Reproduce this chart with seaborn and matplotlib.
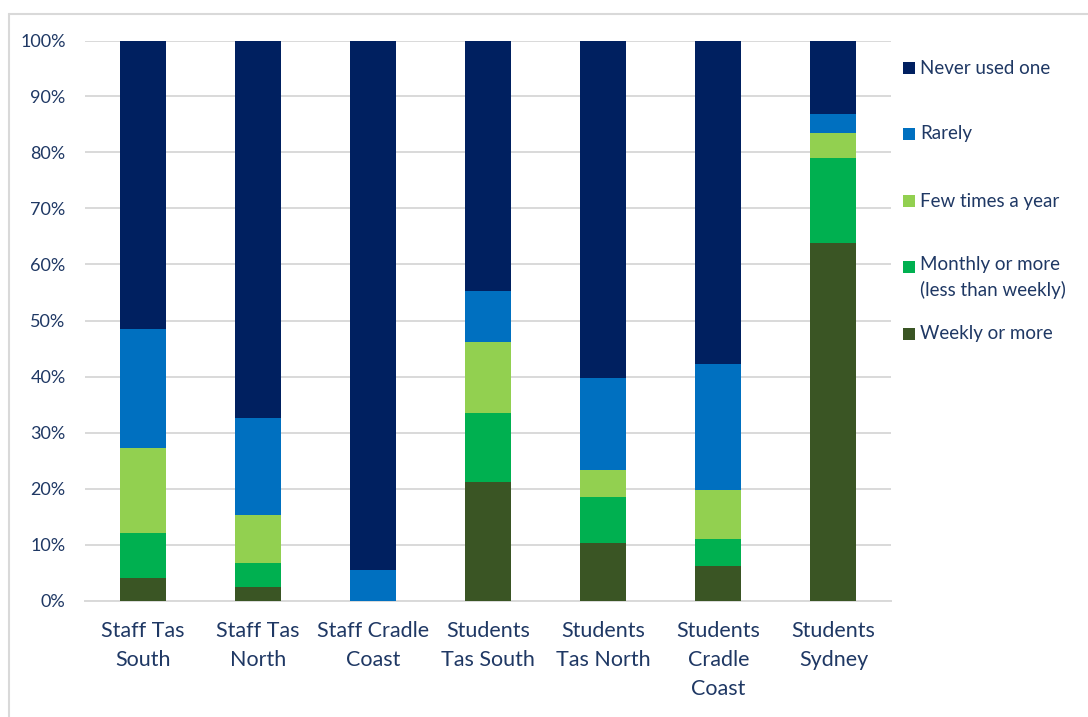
import numpy as np
import pandas as pd
import seaborn as sns
import matplotlib.pyplot as plt
from matplotlib.patches import Rectangle
from matplotlib.lines import Line2D
from matplotlib.ticker import PercentFormatter

sns.set_theme(style="white")
plt.rcParams["font.family"] = ["Lato", "DejaVu Sans"]

# Survey groups (x axis)
categories = [
    "Staff Tas\nSouth", "Staff Tas\nNorth", "Staff Cradle\nCoast",
    "Students\nTas South", "Students\nTas North", "Students\nCradle\nCoast",
    "Students\nSydney",
]

# Share of respondents (%) per frequency, bottom of the stack first
weekly = [4.1, 2.5, 0.0, 21.1, 10.2, 6.2, 63.8]
monthly = [7.9, 4.2, 0.0, 12.3, 8.2, 4.8, 15.2]
few_times = [15.2, 8.6, 0.0, 12.8, 4.9, 8.8, 4.5]
rarely = [21.2, 17.3, 5.4, 9.1, 16.5, 22.4, 3.3]
never = [51.6, 67.4, 94.6, 44.7, 60.2, 57.8, 13.2]

series_names = ["Weekly or more", "Monthly or more\n(less than weekly)",
                "Few times a year", "Rarely", "Never used one"]
series_values = [weekly, monthly, few_times, rarely, never]
colors = ["#3A5524", "#00B050", "#92D050", "#0070C0", "#002060"]

text_color = "#1F3864"
grid_color = "#D9D9D9"

fig = plt.figure(figsize=(10.88, 7.17), dpi=100)
W, H = 1088, 717
ax = fig.add_axes([85 / W, (H - 600.5) / H, (891 - 85) / W, (600.5 - 40.5) / H])

# stacked bars: draw cumulative totals from the top layer down
df = pd.DataFrame({name: vals for name, vals in zip(series_names, series_values)})
df["group"] = categories
cum = df[series_names].cumsum(axis=1)
for name, col in reversed(list(zip(series_names, colors))):
    sns.barplot(x=df["group"], y=cum[name], color=col, width=0.4,
                saturation=1, linewidth=0, ax=ax, order=categories, zorder=3)

ax.set_ylim(0, 100)
ax.set_xlim(-0.5, 6.5)
ax.set_yticks(np.arange(0, 101, 10))
ax.yaxis.set_major_formatter(PercentFormatter(decimals=0))
ax.grid(axis="y", color=grid_color, linewidth=1.4, zorder=0)
ax.set_axisbelow(True)
for s in ["top", "right", "left"]:
    ax.spines[s].set_visible(False)
ax.spines["bottom"].set_color(grid_color)
ax.spines["bottom"].set_linewidth(1.4)
ax.set_xlabel("")
ax.set_ylabel("")
ax.tick_params(axis="y", length=0, pad=14, labelsize=13, labelcolor=text_color)
ax.tick_params(axis="x", length=0, pad=15, labelsize=15.5, labelcolor=text_color)
for lbl in ax.get_xticklabels():
    lbl.set_linespacing(1.55)
    lbl.set_verticalalignment("top")

# legend on the right
legend_rows = [("Never used one", "#002060", 68),
               ("Rarely", "#0070C0", 134),
               ("Few times a year", "#92D050", 201),
               ("Monthly or more\n(less than weekly)", "#00B050", 267),
               ("Weekly or more", "#3A5524", 334)]
for label, col, yc in legend_rows:
    fig.add_artist(Rectangle((903 / W, (H - yc - 6) / H), 12 / W, 12 / H,
                             transform=fig.transFigure, color=col, lw=0))
    if "\n" in label:
        fig.text(920 / W, (H - yc + 11) / H, label, color=text_color,
                 fontsize=13.5, va="top", ha="left", linespacing=1.5)
    else:
        fig.text(920 / W, (H - yc) / H, label, color=text_color,
                 fontsize=13.5, va="center", ha="left")

# chart frame
fig.add_artist(Line2D([9 / W, 1.0], [(H - 14) / H] * 2, color=grid_color,
                      lw=1.5, transform=fig.transFigure))
fig.add_artist(Line2D([9 / W] * 2, [0, (H - 14) / H], color=grid_color,
                      lw=1.5, transform=fig.transFigure))

fig.savefig("out.png", dpi=100)
